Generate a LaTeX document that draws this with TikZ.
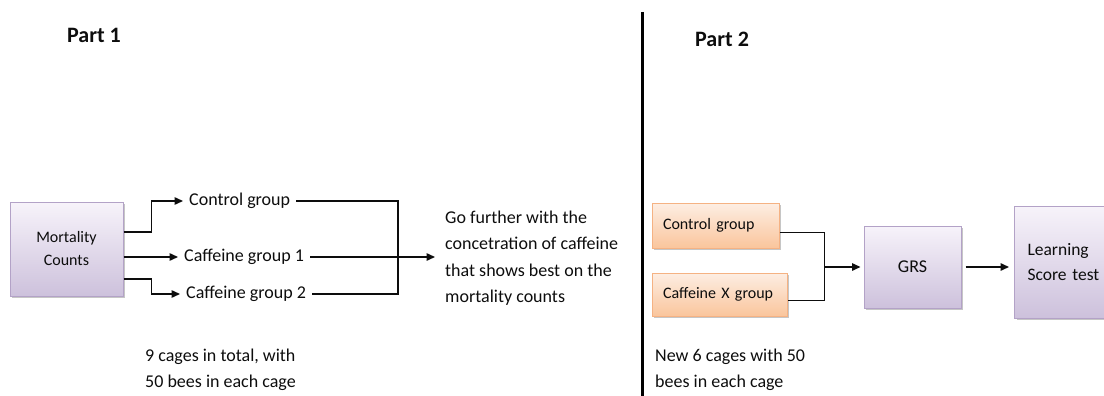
\documentclass[tikz,border=0pt]{standalone}
\usepackage{fontspec}
\setmainfont{Carlito}
\usepackage{tikz}
\usetikzlibrary{arrows.meta, positioning, shadows}
\definecolor{lilactop}{HTML}{F7F3FA}
\definecolor{lilacbot}{HTML}{CDC1DC}
\definecolor{lilacline}{HTML}{B3A2C7}
\definecolor{peachtop}{HTML}{FDEEE3}
\definecolor{peachbot}{HTML}{FAC59C}
\definecolor{peachline}{HTML}{F5B283}
\definecolor{inkgrey}{HTML}{0D0D0D}
\tikzset{
  lilacbox/.style={draw=lilacline, line width=1pt, top color=lilactop, bottom color=lilacbot,
                   drop shadow={shadow xshift=2pt, shadow yshift=-2pt, opacity=0.45},
                   inner sep=0pt, font=\fontsize{16}{23}\selectfont, align=center},
  peachbox/.style={draw=peachline, line width=1pt, top color=peachtop, bottom color=peachbot,
                   drop shadow={shadow xshift=2pt, shadow yshift=-2pt, opacity=0.45},
                   inner xsep=11pt, inner ysep=0pt, align=left, font=\fontsize{16}{23}\selectfont},
  grouptext/.style={inner xsep=6pt, inner ysep=2pt, font=\fontsize{18}{26}\selectfont},
  notetext/.style={inner sep=0pt, align=left, font=\fontsize{18}{26.5}\selectfont},
  parttext/.style={inner sep=0pt, anchor=west, font=\bfseries\fontsize{22}{26}\selectfont},
  conn/.style={line width=1.5pt, inkgrey}
}
\begin{document}
\begin{tikzpicture}[x=1pt, y=-1pt, >={Triangle[length=8.5pt, width=7.5pt]}, text=inkgrey]
    \clip (0,0) rectangle (1104,396);
    % Part 1
    \node[parttext] (p1) at (67,35) {Part 1};
    \node[lilacbox, minimum width=113pt, minimum height=94pt] (mort) at (66.5,249)
         {Mortality\\Counts};
    \node[grouptext, anchor=west] (ctrl) at (183,201) {Control group};
    \node[grouptext, anchor=west] (caf1) at (178,257) {Caffeine group 1};
    \node[grouptext, anchor=west] (caf2) at (180,294) {Caffeine group 2};
    \draw[conn, ->] ([yshift=17pt]mort.east) -- ++(28,0) |- (ctrl.west);
    \draw[conn, ->] (caf1.west -| mort.east) -- (caf1.west);
    \draw[conn, ->] ([yshift=-30pt]mort.east) -- ++(28,0) |- (caf2.west);
    \node[notetext, anchor=west] (further) at (445,258)
         {Go further with the\\concetration of caffeine\\that shows best on the\\mortality counts};
    \coordinate (merge) at (398,257);
    \draw[conn] (ctrl.east) -| (merge) |- (caf2.east);
    \draw[conn, ->] (caf1.east) -- ([xshift=-10pt]caf1.east -| further.west);
    \node[notetext, anchor=west] (cages1) at (145,370) {9 cages in total, with\\50 bees in each cage};
    % Divider
    \draw[line width=3pt, black] (642,12) -- (642,396);
    % Part 2
    \node[parttext] (p2) at (695,39) {Part 2};
    \node[peachbox, text width=105pt, minimum height=45pt] (ctl2) at (715.5,225.5) {Control group};
    \node[peachbox, text width=113pt, minimum height=43pt] (cafx) at (719.5,294.5) {Caffeine X group};
    \node[lilacbox, minimum width=97pt, minimum height=82pt, font=\fontsize{18}{25}\selectfont]
         (grs) at (912.5,267) {GRS};
    \node[lilacbox, anchor=west, inner xsep=13pt, text width=84pt, minimum height=112pt, align=left,
          font=\fontsize{17.5}{25.5}\selectfont] (learn) at (1014,262) {Learning\\Score test};
    \coordinate[left=39pt of grs.west] (join);
    \draw[conn] ([yshift=-7pt]ctl2.east) -| (join) |- ([yshift=-6pt]cafx.east);
    \draw[conn, ->] (join) -- ([xshift=-3pt]grs.west);
    \draw[conn, ->] ([xshift=4pt]grs.east) -- ([xshift=-5pt]grs.east -| learn.west);
    \node[notetext, anchor=west] (cages2) at (655,370) {New 6 cages with 50\\bees in each cage};
\end{tikzpicture}
\end{document}
